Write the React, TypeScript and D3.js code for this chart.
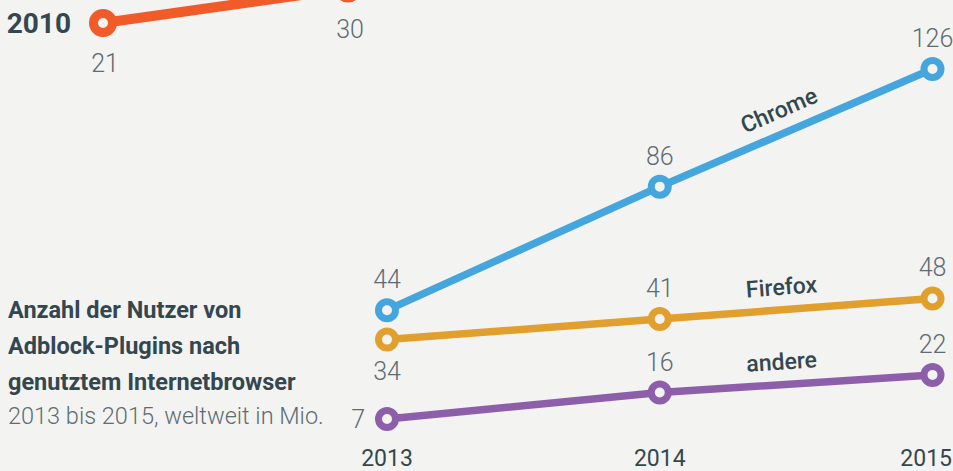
import React from "react";
import * as d3 from "d3";

const years = ["2013", "2014", "2015"];
const chrome = [44, 86, 126];
const firefox = [34, 41, 48];
const andere = [7, 16, 22];

const prevYears = ["2010", "2011"];
const prevValues = [21, 30];

const titleLines = ["Anzahl der Nutzer von", "Adblock-Plugins nach", "genutztem Internetbrowser"];
const subtitle = "2013 bis 2015, weltweit in Mio.";

const W = 953;
const H = 471;
const BG = "#f3f3f2";
const DARK = "#34474f";
const GRAY = "#5e6c72";
const FONT = "Roboto, 'Noto Sans', sans-serif";

type Series = {
  name: string;
  values: number[];
  color: string;
  labelPos: ("above" | "below" | "left")[];
};

const series: Series[] = [
  { name: "Chrome", values: chrome, color: "#45a6dd", labelPos: ["above", "above", "above"] },
  { name: "Firefox", values: firefox, color: "#e19f2e", labelPos: ["below", "above", "above"] },
  { name: "andere", values: andere, color: "#8d5ea9", labelPos: ["left", "above", "above"] },
];

export default function App() {
  const x = d3.scalePoint<string>().domain(years).range([387, 932.5]);
  const y = d3.scaleLinear().domain([0, 126]).range([439.6, 69]);

  const px = d3.scalePoint<string>().domain(prevYears).range([103, 348]);
  const py = d3.scaleLinear().domain([21, 30]).range([23, -11.5]);

  const line = d3
    .line<number>()
    .x((_, i) => x(years[i]) as number)
    .y((d) => y(d));

  const prevLine = d3
    .line<number>()
    .x((_, i) => px(prevYears[i]) as number)
    .y((d) => py(d));

  return (
    <svg
      width={W}
      height={H}
      style={{ position: "absolute", left: 0, top: 0, background: BG, fontFamily: FONT }}
    >
      <rect x={0} y={0} width={W} height={H} fill={BG} />

      {/* previous period (clipped at top) */}
      <path d={prevLine(prevValues) || ""} fill="none" stroke="#f15a29" strokeWidth={10} />
      {prevValues.map((v, i) => (
        <g key={"p" + i}>
          <circle cx={px(prevYears[i])} cy={py(v)} r={9.5} fill={BG} stroke="#f15a29" strokeWidth={9} />
          <text
            x={(px(prevYears[i]) as number) + 2}
            y={py(v) + 49}
            textAnchor="middle"
            fontSize={25}
            fontWeight={300}
            fill={GRAY}
          >
            {v}
          </text>
        </g>
      ))}
      <text x={71} y={33} textAnchor="end" fontSize={28} fontWeight={700} fill={DARK}>
        {prevYears[0]}
      </text>

      {/* title */}
      {titleLines.map((t, i) => (
        <text key={t} x={8} y={318 + i * 36} fontSize={23.5} fontWeight={700} fill={DARK}>
          {t}
        </text>
      ))}
      <text x={8} y={424} fontSize={23.5} fontWeight={300} fill={GRAY}>
        {subtitle}
      </text>

      {/* lines */}
      {series.map((s) => (
        <path key={s.name} d={line(s.values) || ""} fill="none" stroke={s.color} strokeWidth={7.5} />
      ))}

      {/* series labels along last segment */}
      {series.map((s) => {
        const x1 = x(years[1]) as number;
        const x2 = x(years[2]) as number;
        const y1 = y(s.values[1]);
        const y2 = y(s.values[2]);
        const rad = Math.atan2(y2 - y1, x2 - x1);
        const ang = (rad * 180) / Math.PI;
        const mx = (x1 + x2) / 2 - 14;
        const my = y1 + ((mx - x1) / (x2 - x1)) * (y2 - y1);
        const off = 15;
        const dx = -off * Math.tan(rad);
        return (
          <text
            key={"l" + s.name}
            x={mx + dx}
            y={my - off}
            textAnchor="middle"
            fontSize={23}
            fontWeight={500}
            fill={DARK}
            transform={`rotate(${ang} ${mx} ${my})`}
          >
            {s.name}
          </text>
        );
      })}

      {/* points and values */}
      {series.map((s) =>
        s.values.map((v, i) => {
          const cx = x(years[i]) as number;
          const cy = y(v);
          const pos = s.labelPos[i];
          const tx = pos === "left" ? cx - 22 : cx;
          const ty = pos === "above" ? cy - 22 : pos === "below" ? cy + 40 : cy + 9;
          return (
            <g key={s.name + i}>
              <circle cx={cx} cy={cy} r={8.5} fill={BG} stroke={s.color} strokeWidth={7} />
              <text
                x={tx}
                y={ty}
                textAnchor={pos === "left" ? "end" : "middle"}
                fontSize={25}
                fontWeight={300}
                fill={GRAY}
              >
                {v}
              </text>
            </g>
          );
        })
      )}

      {/* x axis labels */}
      {years.map((yr, i) => {
        const last = i === years.length - 1;
        return (
          <text
            key={yr}
            x={last ? W - 1 : (x(yr) as number)}
            y={466}
            textAnchor={last ? "end" : "middle"}
            fontSize={23}
            fontWeight={400}
            fill={DARK}
          >
            {yr}
          </text>
        );
      })}
    </svg>
  );
}
